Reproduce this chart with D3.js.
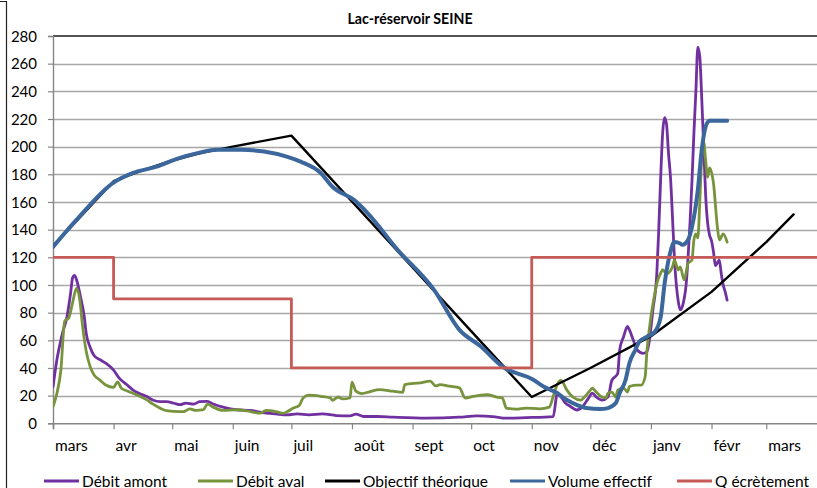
<!DOCTYPE html>
<html><head><meta charset="utf-8">
<script src="https://cdn.jsdelivr.net/npm/d3@7"></script>
<style>
body{margin:0;background:#fff}
svg{display:block}
text{font-family:Lato,"Open Sans",sans-serif;fill:#000}
</style>
</head><body>
<svg id="chart" width="817" height="488"></svg>
<script>
// ---------- DATA ----------
const title = "Lac-réservoir SEINE";
const startDate = "2013-03-01";          // day 0 of every series
const axisEndDate = "2014-04-01";
const monthLabels = ["mars","avr","mai","juin","juil","août","sept","oct","nov","déc","janv","févr","mars"];
const yTickValues = [0,20,40,60,80,100,120,140,160,180,200,220,240,260,280];
const seriesNames = ["Débit amont","Débit aval","Objectif théorique","Volume effectif","Q écrètement"];

// Débit amont (purple)
const amontDays = [0,2,4,5,7,9,10,11,12,14,16,17,19,21,24,27,31,34,38,41,44,48,51,55,58,62,65,68,72,75,79,82,87,94,101,107,114,120,125,131,138,145,152,155,159,166,174,191,208,217,225,232,242,256,258,260,262,265,268,271,274,276,278,281,284,286,289,290,292,294,295,297,299,302,304,305,307,309,310,311,312,313,314,315,316,317,318,319,320,321,322,323,324,325,326,327,328,329,330,331,332,333,334,335,336,337,338,339,340,341,342,343,344,345];
const amontValues = [26.5,46,60,66,76,94,105,107,104,92,77,65,55,49,46,43.5,38.5,32.5,27.7,24,21.7,19.3,16.9,15.7,15.7,14.5,13.5,14.6,13.9,15.6,15.9,13.9,11.7,9.8,9.3,7.8,6.8,6.1,6.8,6.1,6.8,5.6,5.4,6.6,4.9,4.9,4.4,3.7,4.4,5.4,4.9,3.7,4.1,4.9,21,19,15,12,9.6,12,18,21.8,19,16.8,19,31,36,53,62.6,70,67.5,60,53,50.6,52,58,82,108,140,178,210,221,216,195,178,150,120,100,88,82,84,90,100,120,145,175,210,240,272,265,235,200,165,145,136,132,124,114,116,118,108,100,95,89];

// Débit aval (green)
const avalDays = [0,2,4,6,8,10,12,14,15,17,19,21,24,27,31,33,35,38,43,48,51,55,58,65,67,70,73,77,79,82,87,94,101,106,109,114,118,120,123,126,128,131,137,142,143,146,148,152,153,155,158,162,167,174,179,180,188,193,196,198,203,208,211,215,222,227,230,232,237,242,249,254,256,258,260,263,266,270,272,275,276,278,281,283,284,286,288,289,292,294,295,299,301,303,304,306,308,309,311,312,314,317,318,320,321,323,325,327,328,329,330,331,332,333,334,335,336,338,340,341,343,345];
const avalValues = [12,21.7,38,74,76,87,97.6,86,72,52,41,35,31.3,27.7,26,30,25.3,23.4,20.5,16.9,14,10.8,9.2,8.4,8.5,10.5,9.3,9.8,13.9,11.7,9.3,9.8,8.5,7.3,9.3,8.5,7.3,8.5,11,12.9,18.3,20.3,19.5,18.3,16.6,19,17.6,18.3,29.8,23.2,21.5,22.8,24.4,23.2,22.4,28,29.3,30.5,27,28,26.8,25.6,18.3,19.5,20.7,19,18.3,11,10.2,11,10.5,11.7,19.5,28,31,24,19,16.8,19,24,25.5,22.6,19,18.3,21.8,22.6,19,24,25.5,22.6,26.6,27.6,27.6,33.5,53,77,94,101,108.7,111,108,113,118,111,113,103.7,115.6,118,132.6,137,134,160,193,203.5,190,178,184.7,173.6,142,132.6,137,131];

// Objectif théorique (black)
const objectifDays = [0,31,45,61,76,92,122,245,275,306,337,365,379];
const objectifValues = [128,175,182.5,190,195.5,200,208,19,40,63,95,131,151];

// Volume effectif (blue)
const volumeDays = [0,12,31,41,53,63,75,84,96,108,120,127,137,143,154,161,176,195,208,219,230,246,251,258,263,268,273,280,284,288,290,293,295,298,300,304,308,311,313,316,318,321,322,325,327,330,332,334,336,345];
const volumeValues = [127.5,147,174,181,185.5,191,195.7,197.7,197.7,196.5,192.6,189,181,171,161.5,152,126,96.5,67.5,55.5,41,31.3,26.6,21.9,16.8,13.3,11,10.3,11,14.6,21.9,31.3,43.6,53,59,62.6,66.2,77,101,124,131,130,129,132.6,142,168.7,197.7,214.5,218.7,218.7];

// Q écrètement (red, stepped)
const ecretDays = [0,31,122,245,420];
const ecretValues = [120,90,40,120,120];

const colors = ["#7030A0","#77933C","#000000","#3B679C","#C55A56"];
const widths = [2.8,2.8,2.4,4,2.8];

// ---------- DRAWING ----------
const svg = d3.select("#chart");
const W = 817, H = 488;
const plot = {left:53, right:817, top:36, bottom:423.3};
const parse = d3.utcParse("%Y-%m-%d");
const t0 = parse(startDate), tEnd = parse(axisEndDate);
const x = d3.scaleUtc().domain([t0, tEnd]).range([53, 826.8]);
const y = d3.scaleLinear().domain([0,280]).range([plot.bottom, plot.top]);
const dayToDate = d => d3.utcDay.offset(t0, d);

// outer frame fragment on the left
svg.append("path").attr("d","M0,1.5H6.5V488").attr("fill","none").attr("stroke","#222").attr("stroke-width",1.2);

// title
svg.append("text").attr("x",410).attr("y",24).attr("text-anchor","middle")
  .attr("font-weight","bold").attr("font-size",14.2).text(title);

// gridlines
svg.append("g").selectAll("line").data(yTickValues.filter(v=>v>0 && v<280)).join("line")
  .attr("x1",plot.left).attr("x2",plot.right)
  .attr("y1",d=>Math.round(y(d))+0.5).attr("y2",d=>Math.round(y(d))+0.5)
  .attr("stroke","#a6a6a6").attr("stroke-width",1.4);
// top border of plot area
svg.append("line").attr("x1",plot.left).attr("x2",plot.right)
  .attr("y1",y(280)).attr("y2",y(280)).attr("stroke","#1a1a1a").attr("stroke-width",1.6);

// y axis
const yAxis = d3.axisLeft(y).tickValues(yTickValues).tickSize(5).tickPadding(11);
const gy = svg.append("g").attr("transform",`translate(${plot.left},0)`).call(yAxis);
gy.select(".domain").attr("stroke","#868686").attr("stroke-width",1.4);
gy.selectAll(".tick line").attr("stroke","#868686").attr("stroke-width",1.2);
gy.selectAll(".tick text").attr("font-size",15).attr("font-family","Lato").attr("fill","#000").attr("dy","0.34em");

// x axis
const monthTicks = d3.utcMonth.range(t0, tEnd);
const xAxis = d3.axisBottom(x).tickValues(monthTicks).tickSize(6).tickFormat((d,i)=>monthLabels[i]);
const gx = svg.append("g").attr("transform",`translate(0,${plot.bottom})`).call(xAxis);
gx.select(".domain").attr("stroke","#868686").attr("stroke-width",1.6);
gx.selectAll(".tick line").attr("stroke","#868686").attr("stroke-width",1.2);
gx.selectAll(".tick text").attr("font-size",15.5).attr("font-family","Lato").attr("fill","#000")
  .attr("text-anchor","start").attr("x",1.5).attr("y",17).attr("dy","0.71em");

// clip
svg.append("clipPath").attr("id","clip").append("rect")
  .attr("x",plot.left).attr("y",0).attr("width",plot.right-plot.left).attr("height",plot.bottom+2);
const lines = svg.append("g").attr("clip-path","url(#clip)");

const series = [
  {days:amontDays, vals:amontValues, curve:d3.curveMonotoneX},
  {days:avalDays, vals:avalValues, curve:d3.curveMonotoneX},
  {days:objectifDays, vals:objectifValues, curve:d3.curveLinear},
  {days:volumeDays, vals:volumeValues, curve:d3.curveMonotoneX},
  {days:ecretDays, vals:ecretValues, curve:d3.curveStepAfter}
];
series.forEach((s,i)=>{
  const pts = s.days.map((d,k)=>[dayToDate(d), s.vals[k]]);
  const gen = d3.line().x(p=>x(p[0])).y(p=>y(p[1])).curve(s.curve);
  lines.append("path").attr("d",gen(pts)).attr("fill","none")
    .attr("stroke",colors[i]).attr("stroke-width",widths[i])
    .attr("stroke-linejoin","round").attr("stroke-linecap","round");
});

// legend
const legendX = [44,198,325,510,677];
const lg = svg.append("g");
seriesNames.forEach((n,i)=>{
  lg.append("line").attr("x1",legendX[i]).attr("x2",legendX[i]+35)
    .attr("y1",481).attr("y2",481).attr("stroke",colors[i]).attr("stroke-width",3);
  lg.append("text").attr("x",legendX[i]+38).attr("y",486.5).attr("font-size",15.5).text(n);
});
</script>
</body></html>
